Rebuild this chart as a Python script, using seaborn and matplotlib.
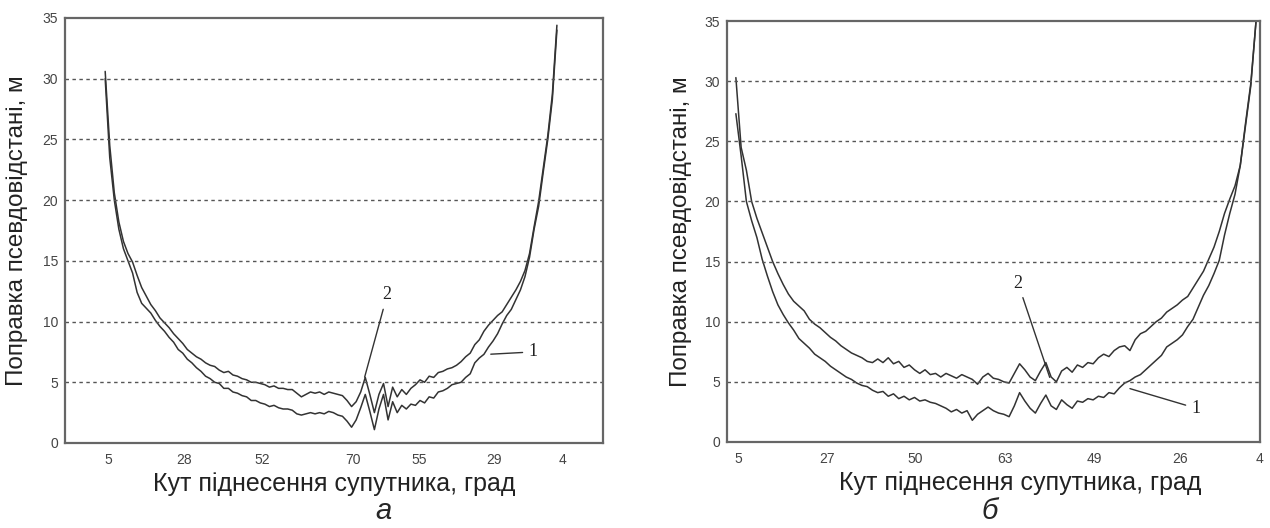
import matplotlib
matplotlib.use("Agg")
import matplotlib.pyplot as plt
import seaborn as sns
import numpy as np

# panel а (left): pseudorange correction, m, per time sample
left_curve1 = [30.0, 23.5, 20.0, 17.6, 16.0, 15.0, 14.0, 12.4, 11.5, 11.1,
               10.7, 10.1, 9.6, 9.2, 8.7, 8.3, 7.7, 7.4, 6.9, 6.6,
               6.2, 5.9, 5.5, 5.3, 5.0, 4.9, 4.5, 4.5, 4.2, 4.1,
               3.9, 3.8, 3.5, 3.5, 3.3, 3.2, 3.0, 3.1, 2.9, 2.8,
               2.8, 2.7, 2.4, 2.3, 2.4, 2.5, 2.4, 2.5, 2.4, 2.6,
               2.5, 2.3, 2.2, 1.8, 1.3, 1.9, 2.9, 4.0, 2.6, 1.1,
               2.8, 4.0, 1.9, 3.4, 2.5, 3.1, 2.8, 3.2, 3.1, 3.5,
               3.3, 3.8, 3.7, 4.2, 4.3, 4.5, 4.8, 4.9, 5.0, 5.4,
               5.7, 6.6, 7.0, 7.3, 7.9, 8.4, 9.0, 9.8, 10.5, 11.0,
               11.8, 12.6, 13.7, 15.3, 17.6, 19.5, 22.3, 25.0, 28.3, 34.0]
left_curve2 = [30.6, 24.5, 20.6, 18.2, 16.6, 15.6, 14.9, 13.8, 12.8, 12.1,
               11.4, 10.9, 10.3, 9.9, 9.5, 9.0, 8.6, 8.2, 7.7, 7.4,
               7.1, 6.9, 6.6, 6.4, 6.3, 6.0, 5.8, 5.9, 5.6, 5.5,
               5.3, 5.2, 5.0, 5.0, 4.9, 4.8, 4.6, 4.7, 4.5, 4.5,
               4.4, 4.4, 4.1, 3.8, 4.0, 4.2, 4.1, 4.2, 4.0, 4.2,
               4.1, 4.0, 3.9, 3.5, 3.0, 3.4, 4.2, 5.4, 4.0, 2.5,
               4.0, 4.9, 3.0, 4.6, 3.8, 4.4, 4.0, 4.5, 4.8, 5.2,
               5.0, 5.5, 5.4, 5.8, 5.9, 6.1, 6.2, 6.4, 6.7, 7.1,
               7.4, 8.1, 8.5, 9.2, 9.7, 10.1, 10.5, 10.8, 11.4, 12.0,
               12.6, 13.3, 14.2, 15.6, 17.8, 19.9, 22.6, 25.3, 28.7, 34.4]
left_ticklabels = ["5", "28", "52", "70", "55", "29", "4"]
left_tickpos = [0.7, 17.3, 34.4, 54.3, 68.8, 85.2, 100.3]

# panel б (right)
right_curve1 = [27.3, 23.8, 20.0, 18.4, 17.0, 15.2, 13.8, 12.5, 11.4, 10.6,
                9.9, 9.3, 8.6, 8.2, 7.8, 7.3, 7.0, 6.7, 6.3, 6.0,
                5.7, 5.4, 5.2, 4.9, 4.7, 4.6, 4.3, 4.1, 4.2, 3.8,
                4.0, 3.6, 3.8, 3.5, 3.7, 3.4, 3.5, 3.3, 3.2, 3.0,
                2.8, 2.5, 2.7, 2.4, 2.6, 1.8, 2.3, 2.6, 2.9, 2.6,
                2.4, 2.3, 2.1, 3.0, 4.1, 3.4, 2.8, 2.4, 3.2, 3.9,
                3.0, 2.7, 3.5, 3.1, 2.8, 3.4, 3.3, 3.6, 3.5, 3.8,
                3.7, 4.1, 4.0, 4.5, 4.9, 5.1, 5.4, 5.6, 6.0, 6.4,
                6.8, 7.2, 7.9, 8.2, 8.5, 8.9, 9.6, 10.2, 11.2, 12.2,
                13.0, 14.0, 15.1, 17.2, 19.0, 20.6, 23.0, 26.3, 29.6, 35.0]
right_curve2 = [30.3, 24.5, 22.6, 20.0, 18.6, 17.4, 16.2, 15.0, 14.0, 13.1,
                12.3, 11.7, 11.3, 10.9, 10.2, 9.8, 9.5, 9.1, 8.7, 8.4,
                8.0, 7.7, 7.4, 7.2, 7.0, 6.7, 6.6, 6.9, 6.6, 7.0,
                6.5, 6.7, 6.2, 6.4, 6.0, 5.7, 6.0, 5.6, 5.7, 5.4,
                5.7, 5.5, 5.3, 5.6, 5.4, 5.2, 4.8, 5.4, 5.7, 5.3,
                5.2, 5.0, 4.9, 5.7, 6.5, 6.0, 5.4, 5.1, 5.9, 6.6,
                5.4, 5.0, 5.9, 6.2, 5.8, 6.4, 6.2, 6.6, 6.5, 7.0,
                7.3, 7.1, 7.6, 7.9, 8.0, 7.6, 8.5, 9.0, 9.2, 9.6,
                10.0, 10.3, 10.8, 11.1, 11.4, 11.8, 12.1, 12.8, 13.5, 14.2,
                15.2, 16.2, 17.5, 19.0, 20.2, 21.3, 23.0, 26.5, 29.8, 35.0]
right_ticklabels = ["5", "27", "50", "63", "49", "26", "4"]
right_tickpos = [0.4, 17.4, 34.2, 51.2, 68.2, 84.5, 99.7]

yticks = [0, 5, 10, 15, 20, 25, 30, 35]
xlabel = "Кут піднесення супутника, град"
ylabel = "Поправка псевдовідстані, м"

sns.set_theme(style="white")
plt.rcParams['font.family'] = ['Liberation Sans', 'DejaVu Sans']

line_color = "#333333"
frame_color = "#666666"

fig = plt.figure(figsize=(12.7, 5.28), dpi=100)
ax1 = fig.add_axes([0.0512, 0.161, 0.4236, 0.805])
ax2 = fig.add_axes([0.5724, 0.163, 0.4197, 0.797])

panels = [
    (ax1, left_curve1, left_curve2, left_tickpos, left_ticklabels, (-8.8, 109.1), 0.5),
    (ax2, right_curve1, right_curve2, right_tickpos, right_ticklabels, (-1.7, 99.75), 0.55),
]

for ax, c1, c2, tpos, tlab, xlim, xl_pos in panels:
    sns.lineplot(x=np.arange(len(c1)), y=c1, ax=ax, color=line_color, linewidth=1.1)
    sns.lineplot(x=np.arange(len(c2)), y=c2, ax=ax, color=line_color, linewidth=1.1)
    ax.set_xlim(*xlim)
    ax.set_ylim(0, 35)
    ax.set_xticks(tpos)
    ax.set_xticklabels(tlab)
    ax.set_yticks(yticks)
    ax.tick_params(axis='both', length=0, labelsize=10, colors="#444444")
    ax.tick_params(axis='x', pad=7)
    ax.tick_params(axis='y', pad=5)
    for y in yticks[1:-1]:
        ax.axhline(y, color="#555555", linewidth=1.0, linestyle=(0, (2.5, 2.5)))
    for sp in ax.spines.values():
        sp.set_color(frame_color)
        sp.set_linewidth(1.6)
    ax.set_xlabel(xlabel, fontsize=18, color="#222222")
    ax.set_ylabel(ylabel, fontsize=17.5, color="#222222")
    ax.xaxis.set_label_coords(xl_pos, -0.068)

ax1.yaxis.set_label_coords(-0.069, 0.5)
ax2.yaxis.set_label_coords(-0.066, 0.5)

# curve labels with leader lines
ann = dict(fontsize=13, family=['Liberation Serif', 'DejaVu Serif'], color="#222222",
           arrowprops=dict(arrowstyle='-', color="#333333", linewidth=1.0))
ax1.annotate("2", xy=(56.7, 5.2), xytext=(61.8, 12.2), ha='center', va='center', **ann)
ax1.annotate("1", xy=(83.9, 7.3), xytext=(93.8, 7.5), ha='center', va='center', **ann)
ax2.annotate("2", xy=(59.9, 5.15), xytext=(53.7, 13.2), ha='center', va='center', **ann)
ax2.annotate("1", xy=(74.5, 4.5), xytext=(87.6, 2.8), ha='center', va='center', **ann)

fig.text(383 / 1270, 9 / 528, "а", fontsize=21, style='italic', ha='center', va='baseline')
fig.text(990 / 1270, 9 / 528, "б", fontsize=21, style='italic', ha='center', va='baseline')

fig.savefig("out.png", dpi=100)
